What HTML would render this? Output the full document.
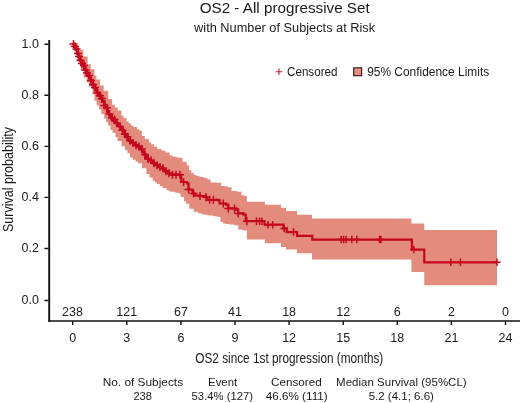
<!DOCTYPE html>
<html><head><meta charset="utf-8"><title>OS2</title>
<style>
html,body{margin:0;padding:0;background:#fff;}
body{width:520px;height:403px;overflow:hidden;}
svg{display:block;will-change:transform;font-family:"Liberation Sans",sans-serif;fill:#1a1a1a;}
</style></head><body>
<svg width="520" height="403" viewBox="0 0 520 403">
<rect width="520" height="403" fill="#fff"/>
<path d="M72.7 43.0H76.1V45.5H79.2V49.8H83.3V56.4H87.6V64.2H90.7V69.3H94.4V75.5H96.4V79.4H100.1V85.6H103.7V90.8H108.2V99.0H112.2V104.7H114.9V107.4H117.8V110.5H121.4V115.4H123.4V118.0H126.5V121.4H128.8V123.6H131.0V125.6H133.1V127.0H137.0V129.2H139.3V130.5H141.8V135.9H144.7V139.0H148.9V142.3H151.0V144.3H154.1V146.8H157.4V148.9H161.6V150.7H165.6V152.4H169.7V155.4H172.4V156.4H175.4V157.3H178.2V157.8H182.4V161.8H186.7V165.4H189.1V170.3H191.4V173.0H193.9V175.1H196.5V176.0H199.6V176.9H203.0V177.6H205.6V178.2H207.6V179.6H210.6V182.4H213.4V182.5H216.8V182.7H221.2V186.0H224.8V186.6H228.1V187.2H231.6V190.9H235.2V190.9H237.3V191.8H241.5V195.3H244.4V195.9H246.9V201.8H264.9V201.8H264.9V204.8H281.0V204.8H281.0V207.8H286.0V207.8H286.0V211.0H297.1V211.0H297.1V214.7H312.0V214.7H312.0V218.5H411.4V218.5H411.4V223.5H424.3V223.5H424.3V230.0H497.0V230.0L497.0 285.3V285.3H424.3V272.0H424.3V272.0H411.4V259.5H411.4V259.5H312.0V253.2H312.0V253.2H297.1V249.5H297.1V249.5H286.0V247.0H286.0V247.0H281.0V243.3H281.0V243.3H264.9V239.5H264.9V239.5H246.9V230.6H244.4V230.2H242.2V229.4H238.2V225.3H234.1V224.6H229.7V223.9H225.7V223.6H223.2V222.0H220.4V216.7H216.5V216.2H213.2V215.6H209.3V215.2H207.0V214.8H204.1V214.3H201.5V213.3H197.8V211.8H193.7V208.7H189.3V203.7H186.0V201.3H184.0V196.9H180.7V193.5H178.4V192.8H175.1V191.8H170.8V191.3H168.8V190.3H166.5V188.1H162.4V186.1H159.8V184.0H157.0V182.4H154.8V180.8H152.7V177.5H149.5V173.9H146.4V168.2H142.0V163.3H137.9V161.6H135.6V159.7H132.8V157.4H130.0V153.2H127.4V150.3H125.1V146.2H121.6V140.9H117.5V137.0H115.5V132.8H112.6V129.9H110.5V125.5H108.1V122.1H106.2V118.8H104.2V113.9H101.4V109.6H99.0V105.6H96.6V100.8H94.5V94.5H92.4V86.5H88.9V82.5H86.7V77.4H83.7V70.8H80.8V59.9H76.9V45.0H72.7Z" fill="#E38C7D"/>
<path d="M72.7 44.0H74.1V46.6H75.4V49.1H77.1V53.5H78.3V56.4H80.0V60.4H81.4V63.4H82.6V65.6H84.2V68.2H85.4V70.1H86.9V73.1H88.1V75.5H89.3V77.7H90.8V80.4H92.7V84.7H94.0V87.4H95.3V89.8H97.0V92.8H99.1V95.8H100.7V98.4H102.2V101.4H104.3V105.5H105.5V107.8H107.4V111.6H108.8V114.1H110.1V116.4H111.3V118.0H112.7V119.6H114.6V121.8H115.9V123.1H117.6V124.8H119.3V126.5H120.8V128.3H122.5V130.3H123.6V131.9H124.8V134.2H126.1V136.7H127.9V139.2H129.4V140.7H130.9V141.7H132.5V143.0H134.1V144.2H135.5V145.2H137.4V146.4H139.2V147.6H140.5V149.1H142.2V151.8H143.8V154.4H145.8V156.8H147.6V159.0H149.0V160.2H151.1V161.5H152.3V162.3H153.8V163.3H155.7V164.5H156.9V165.3H158.5V166.3H159.7V167.1H161.4V168.3H163.3V169.9H165.0V171.3H166.9V172.7H168.3V173.3H170.1V174.2H171.3V174.7H180.0V174.8H181.2V182.0H187.0V183.4H188.5V189.5H192.5V193.5H195.0V195.5H200.0V196.0H206.0V197.2H207.2V199.8H218.6V200.3H219.6V203.5H226.0V204.7H228.3V208.4H236.0V209.6H238.2V213.4H243.6V214.6H245.7V221.2H262.6V221.2H264.5V224.7H282.4V224.7H283.5V228.4H286.0V228.4H286.7V232.1H296.2V232.1H297.1V235.8H311.7V235.8H312.3V239.6H411.4V239.6H411.9V249.6H423.9V249.6H424.3V262.3H497.0V262.3" fill="none" stroke="#C5061F" stroke-width="2.2" stroke-linejoin="miter"/>
<path d="M72.7 44.0H74.1V46.6H75.4V49.1H77.1V53.5H78.3V56.4H80.0V60.4H81.4V63.4H82.6V65.6H84.2V68.2H85.4V70.1H86.9V73.1H88.1V75.5H89.3V77.7H90.8V80.4H92.7V84.7H94.0V87.4H95.3V89.8H97.0V92.8H99.1V95.8H100.7V98.4H102.2V101.4H104.3V105.5H105.5V107.8H107.4V111.6H108.8V114.1H110.1V116.4H111.3V118.0H112.7V119.6H114.6V121.8H115.9V123.1H117.6V124.8H119.3V126.5H120.8V128.3H122.5V130.3H123.6V131.9H124.8V134.2H126.1V136.7H127.9V139.2H129.4V140.7H130.9V141.7H132.5V143.0H134.1V144.2H135.5V145.2H137.4V146.4H139.2V147.6H140.5V149.1H142.2V151.8H143.8V154.4H145.8V156.8H147.6V159.0H149.0V160.2H151.1V161.5H152.3V162.3H153.8V163.3H155.7V164.5H156.9V165.3H158.5V166.3H159.7V167.1H161.4V168.3H163.3V169.9H165.0V171.3H166.9V172.7H168.3V173.3H170.1V174.2H171.3V174.7H180.0V174.8" fill="none" stroke="#C5061F" stroke-width="2.6" stroke-linejoin="round"/>
<path d="M73.5 40.0v8.0M69.5 44.0h8.0M75.0 42.6v8.0M71.0 46.6h8.0M76.5 45.1v8.0M72.5 49.1h8.0M78.0 49.5v8.0M74.0 53.5h8.0M79.0 52.4v8.0M75.0 56.4h8.0M80.5 56.4v8.0M76.5 60.4h8.0M82.0 59.4v8.0M78.0 63.4h8.0M84.0 61.6v8.0M80.0 65.6h8.0M85.5 66.1v8.0M81.5 70.1h8.0M87.0 69.1v8.0M83.0 73.1h8.0M89.0 71.5v8.0M85.0 75.5h8.0M91.0 76.4v8.0M87.0 80.4h8.0M93.0 80.7v8.0M89.0 84.7h8.0M95.0 83.4v8.0M91.0 87.4h8.0M97.5 88.8v8.0M93.5 92.8h8.0M100.0 91.8v8.0M96.0 95.8h8.0M102.0 94.4v8.0M98.0 98.4h8.0M104.5 101.5v8.0M100.5 105.5h8.0M107.0 103.8v8.0M103.0 107.8h8.0M109.5 110.1v8.0M105.5 114.1h8.0M112.0 114.0v8.0M108.0 118.0h8.0M114.5 115.6v8.0M110.5 119.6h8.0M117.0 119.1v8.0M113.0 123.1h8.0M120.0 122.5v8.0M116.0 126.5h8.0M122.5 126.3v8.0M118.5 130.3h8.0M125.0 130.2v8.0M121.0 134.2h8.0M127.5 132.7v8.0M123.5 136.7h8.0M130.0 136.7v8.0M126.0 140.7h8.0M133.0 139.0v8.0M129.0 143.0h8.0M136.0 141.2v8.0M132.0 145.2h8.0M139.0 142.4v8.0M135.0 146.4h8.0M142.0 145.1v8.0M138.0 149.1h8.0M145.0 150.4v8.0M141.0 154.4h8.0M148.0 155.0v8.0M144.0 159.0h8.0M151.0 156.2v8.0M147.0 160.2h8.0M154.0 159.3v8.0M150.0 163.3h8.0M157.0 161.3v8.0M153.0 165.3h8.0M160.0 163.1v8.0M156.0 167.1h8.0M163.0 164.3v8.0M159.0 168.3h8.0M166.0 167.3v8.0M162.0 171.3h8.0M169.0 169.3v8.0M165.0 173.3h8.0M172.5 170.7v8.0M168.5 174.7h8.0M176.0 170.7v8.0M172.0 174.7h8.0M180.0 170.8v8.0M176.0 174.8h8.0M183.6 178.0v8.0M179.6 182.0h8.0M188.6 185.5v8.0M184.6 189.5h8.0M193.6 189.5v8.0M189.6 193.5h8.0M200.0 192.0v8.0M196.0 196.0h8.0M206.0 193.2v8.0M202.0 197.2h8.0M209.7 195.8v8.0M205.7 199.8h8.0M213.4 195.8v8.0M209.4 199.8h8.0M223.3 199.5v8.0M219.3 203.5h8.0M228.3 204.4v8.0M224.3 208.4h8.0M234.5 204.4v8.0M230.5 208.4h8.0M238.2 209.4v8.0M234.2 213.4h8.0M246.9 217.2v8.0M242.9 221.2h8.0M256.5 217.4v7.5M252.8 221.2h7.5M259.6 217.4v7.5M255.9 221.2h7.5M261.9 217.4v7.5M258.1 221.2h7.5M268.0 220.9v7.5M264.2 224.7h7.5M272.7 220.9v7.5M268.9 224.7h7.5M284.2 224.7v7.5M280.4 228.4h7.5M293.5 228.3v7.5M289.8 232.1h7.5M341.2 235.8v7.5M337.4 239.6h7.5M343.6 235.8v7.5M339.9 239.6h7.5M346.1 235.8v7.5M342.4 239.6h7.5M351.8 235.8v7.5M348.1 239.6h7.5M356.8 235.8v7.5M353.1 239.6h7.5M379.6 235.8v7.5M375.9 239.6h7.5M380.9 235.8v7.5M377.1 239.6h7.5M413.9 245.8v7.5M410.1 249.6h7.5M450.8 258.6v7.5M447.1 262.3h7.5M460.4 258.6v7.5M456.6 262.3h7.5M497.0 258.6v7.5M493.2 262.3h7.5" fill="none" stroke="#C5061F" stroke-width="1.5"/>
<!-- axes -->
<path d="M49.2 40V321.8" stroke="#111" stroke-width="1.9" fill="none"/>
<path d="M48.3 321H520" stroke="#111" stroke-width="1.7" fill="none"/>
<path d="M44.4 44.3h4M44.4 95.3h4M44.4 146.4h4M44.4 197.4h4M44.4 248.5h4M44.4 300.5h4" stroke="#111" stroke-width="1.4" fill="none"/>
<path d="M72.7 321v4M126.8 321v4M180.9 321v4M235 321v4M289.1 321v4M343.2 321v4M397.3 321v4M451.4 321v4M505.5 321v4" stroke="#111" stroke-width="1.4" fill="none"/>
<!-- titles -->
<text id="t1" x="284.7" y="12.7" font-size="15.2" text-anchor="middle" textLength="170" lengthAdjust="spacingAndGlyphs">OS2 - All progressive Set</text>
<text id="t2" x="284.6" y="31.6" font-size="12" text-anchor="middle" textLength="181" lengthAdjust="spacingAndGlyphs">with Number of Subjects at Risk</text>
<!-- legend -->
<path d="M275.7 71.8h6.6M279 68.5v6.6" stroke="#C0203A" stroke-width="1.1" fill="none"/>
<text x="287" y="76" font-size="12.3" textLength="50.5" lengthAdjust="spacingAndGlyphs">Censored</text>
<rect x="353.7" y="67.8" width="7.9" height="7.9" fill="#E88E7E" stroke="#2a1510" stroke-width="1.1"/>
<text x="367.2" y="76" font-size="12.3" textLength="122" lengthAdjust="spacingAndGlyphs">95% Confidence Limits</text>
<!-- y tick labels -->
<g font-size="12.5" text-anchor="end">
<text x="39" y="48.0">1.0</text>
<text x="39" y="99.0">0.8</text>
<text x="39" y="150.2">0.6</text>
<text x="39" y="201.3">0.4</text>
<text x="39" y="252.4">0.2</text>
<text x="39" y="304.4">0.0</text>
</g>
<text transform="translate(13,179.5) rotate(-90)" font-size="14.3" text-anchor="middle" textLength="105" lengthAdjust="spacingAndGlyphs">Survival probability</text>
<!-- at risk -->
<g font-size="12.5" text-anchor="middle">
<text x="72.5" y="316.2">238</text>
<text x="126.8" y="316.2">121</text>
<text x="180.9" y="316.2">67</text>
<text x="235" y="316.2">41</text>
<text x="289.1" y="316.2">18</text>
<text x="343.2" y="316.2">12</text>
<text x="397.3" y="316.2">6</text>
<text x="451.4" y="316.2">2</text>
<text x="505.5" y="316.2">0</text>
<text x="72.7" y="341.8">0</text>
<text x="126.8" y="341.8">3</text>
<text x="180.9" y="341.8">6</text>
<text x="235" y="341.8">9</text>
<text x="289.1" y="341.8">12</text>
<text x="343.2" y="341.8">15</text>
<text x="397.3" y="341.8">18</text>
<text x="451.4" y="341.8">21</text>
<text x="505.5" y="341.8">24</text>
</g>
<text x="289.3" y="362.9" font-size="14.4" text-anchor="middle" textLength="188" lengthAdjust="spacingAndGlyphs">OS2 since 1st progression (months)</text>
<!-- table -->
<g font-size="11.4" text-anchor="middle">
<text x="142.9" y="385.9" textLength="80.4" lengthAdjust="spacingAndGlyphs">No. of Subjects</text>
<text x="142.7" y="399.9" textLength="18.6" lengthAdjust="spacingAndGlyphs">238</text>
<text x="222.6" y="385.9" textLength="29" lengthAdjust="spacingAndGlyphs">Event</text>
<text x="222.3" y="399.9" textLength="61.4" lengthAdjust="spacingAndGlyphs">53.4% (127)</text>
<text x="296.3" y="385.9" textLength="50.7" lengthAdjust="spacingAndGlyphs">Censored</text>
<text x="296.7" y="399.9" textLength="62" lengthAdjust="spacingAndGlyphs">46.6% (111)</text>
<text x="401.4" y="385.9" textLength="130.6" lengthAdjust="spacingAndGlyphs">Median Survival (95%CL)</text>
<text x="401.3" y="399.9" textLength="65.2" lengthAdjust="spacingAndGlyphs">5.2 (4.1; 6.6)</text>
</g>
</svg>
</body></html>
